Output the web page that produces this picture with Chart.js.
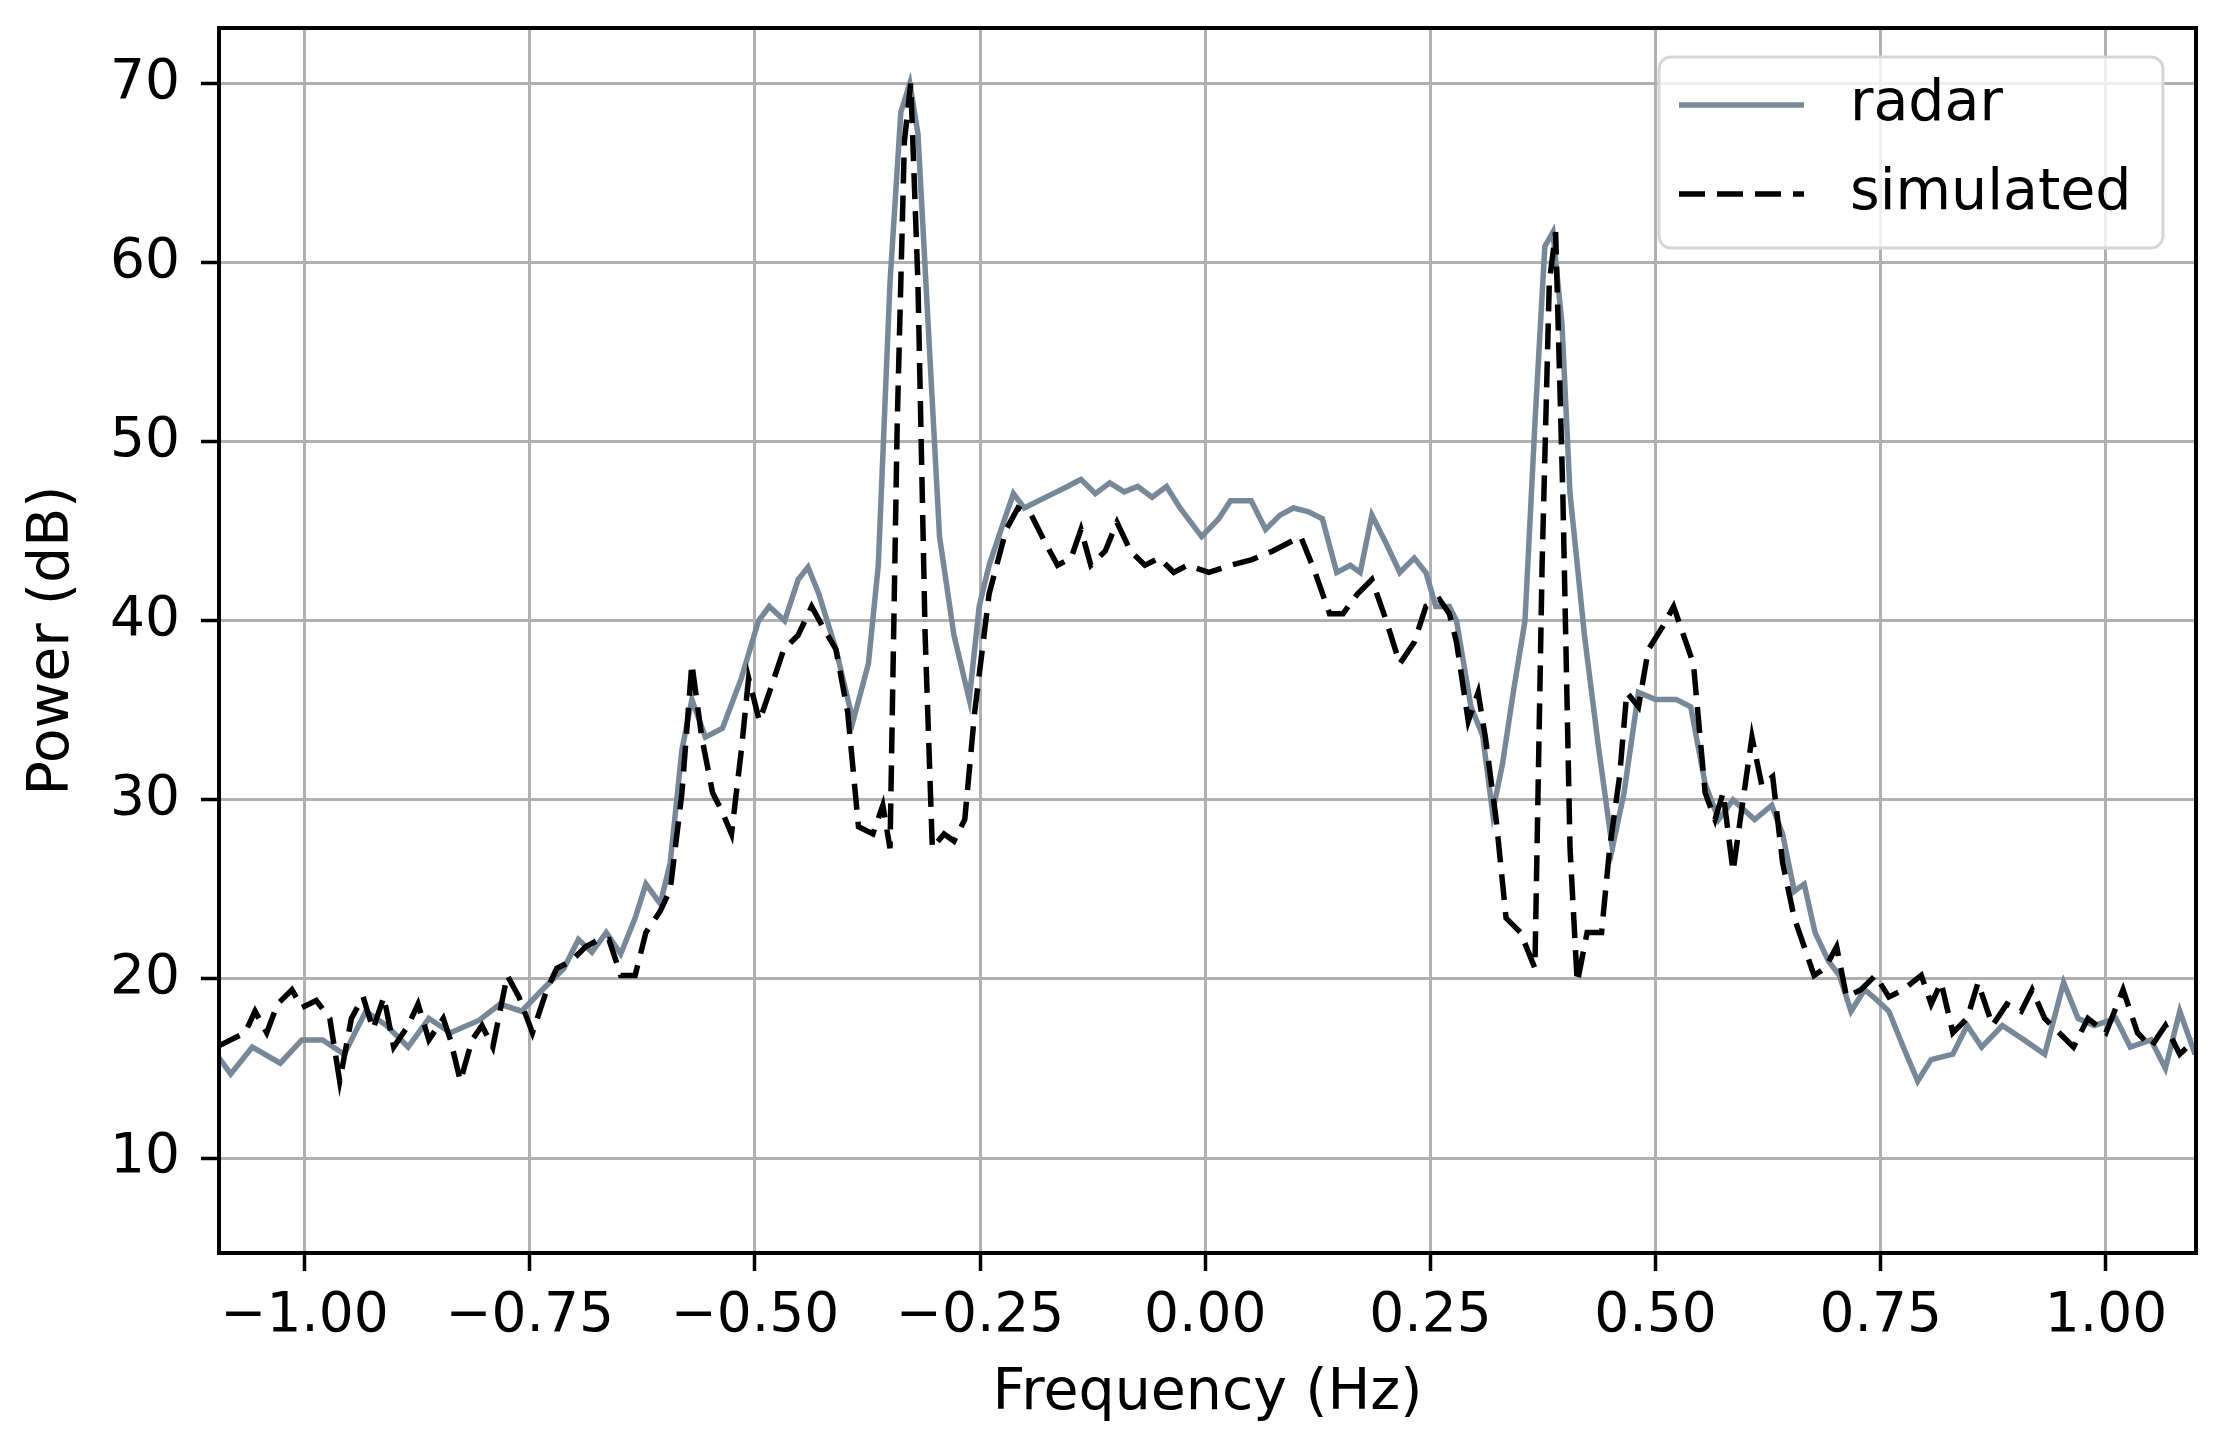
<!DOCTYPE html>
<html lang="en">
<head>
    <meta charset="UTF-8">
    <title>Power spectrum: radar vs simulated</title>
    <script src="https://cdn.jsdelivr.net/npm/chart.js"></script>
    <style>
        html, body { margin: 0; padding: 0; background: #fff; }
        #spectrum { display: block; }
    </style>
</head>
<body>
    <canvas id="spectrum" width="2214" height="1439"></canvas>

    <script>
        // radar spectrum
        const freqRadar = [
            -1.098, -1.082, -1.058, -1.027, -1.003, -0.980, -0.956, -0.932, -0.909, -0.885,
            -0.862, -0.838, -0.806, -0.783, -0.759, -0.736, -0.712, -0.696, -0.681, -0.665,
            -0.649, -0.633, -0.621, -0.605, -0.594, -0.581, -0.570, -0.555, -0.536, -0.515,
            -0.496, -0.484, -0.467, -0.452, -0.441, -0.429, -0.410, -0.391, -0.374, -0.363,
            -0.350, -0.338, -0.328, -0.319, -0.306, -0.295, -0.279, -0.262, -0.251, -0.240,
            -0.224, -0.213, -0.201, -0.185, -0.169, -0.153, -0.138, -0.122, -0.106, -0.090,
            -0.075, -0.059, -0.043, -0.028, -0.004, 0.015, 0.028, 0.051, 0.067, 0.083,
            0.098, 0.114, 0.130, 0.146, 0.161, 0.172, 0.185, 0.201, 0.216, 0.232,
            0.245, 0.256, 0.271, 0.279, 0.295, 0.308, 0.319, 0.330, 0.342, 0.355,
            0.366, 0.377, 0.386, 0.396, 0.405, 0.421, 0.437, 0.452, 0.465, 0.481,
            0.500, 0.523, 0.539, 0.555, 0.570, 0.586, 0.610, 0.629, 0.641, 0.654,
            0.665, 0.677, 0.692, 0.704, 0.717, 0.732, 0.744, 0.759, 0.775, 0.791,
            0.806, 0.830, 0.846, 0.862, 0.885, 0.909, 0.932, 0.953, 0.969, 0.987,
            1.011, 1.027, 1.050, 1.066, 1.082, 1.099
        ];
        const powerRadar = [
            15.8, 14.7, 16.2, 15.3, 16.6, 16.6, 15.8, 18.2, 17.4, 16.2,
            17.8, 17.0, 17.7, 18.6, 18.2, 19.4, 20.6, 22.2, 21.5, 22.6,
            21.4, 23.4, 25.3, 24.2, 26.5, 32.8, 35.6, 33.5, 34.0, 36.8,
            40.0, 40.8, 40.0, 42.3, 43.0, 41.5, 38.4, 34.4, 37.6, 43.1,
            58.9, 68.4, 70.0, 67.2, 55.0, 44.7, 39.2, 35.6, 40.8, 43.1,
            45.5, 47.1, 46.3, 46.7, 47.1, 47.5, 47.9, 47.1, 47.7, 47.2,
            47.5, 46.9, 47.5, 46.3, 44.7, 45.7, 46.7, 46.7, 45.1, 45.9,
            46.3, 46.1, 45.7, 42.7, 43.1, 42.7, 45.9, 44.3, 42.7, 43.5,
            42.7, 40.8, 40.8, 40.0, 35.2, 33.6, 29.3, 32.0, 36.0, 40.0,
            51.0, 60.9, 61.7, 56.6, 47.1, 39.2, 32.8, 27.3, 30.4, 36.0,
            35.6, 35.6, 35.2, 30.9, 28.9, 30.0, 28.9, 29.7, 28.1, 24.9,
            25.3, 22.6, 21.0, 20.2, 18.2, 19.4, 18.9, 18.2, 16.2, 14.3,
            15.5, 15.8, 17.4, 16.2, 17.4, 16.6, 15.8, 19.8, 17.8, 17.4,
            17.8, 16.2, 16.6, 15.0, 18.2, 15.8
        ];

        // simulated spectrum
        const freqSim = [
            -1.098, -1.082, -1.066, -1.055, -1.042, -1.030, -1.014, -1.003, -0.987, -0.972,
            -0.961, -0.948, -0.935, -0.924, -0.912, -0.901, -0.885, -0.874, -0.862, -0.846,
            -0.838, -0.827, -0.814, -0.803, -0.791, -0.775, -0.762, -0.747, -0.731, -0.720,
            -0.704, -0.688, -0.673, -0.662, -0.649, -0.633, -0.621, -0.605, -0.594, -0.581,
            -0.570, -0.559, -0.547, -0.536, -0.526, -0.515, -0.507, -0.495, -0.484, -0.468,
            -0.452, -0.437, -0.424, -0.410, -0.397, -0.385, -0.369, -0.358, -0.350, -0.342,
            -0.334, -0.327, -0.319, -0.311, -0.303, -0.290, -0.279, -0.267, -0.256, -0.240,
            -0.221, -0.208, -0.193, -0.177, -0.164, -0.149, -0.138, -0.127, -0.111, -0.098,
            -0.083, -0.067, -0.051, -0.035, -0.020, 0.004, 0.028, 0.051, 0.075, 0.106,
            0.122, 0.138, 0.153, 0.169, 0.185, 0.201, 0.216, 0.232, 0.245, 0.260,
            0.271, 0.279, 0.292, 0.303, 0.311, 0.323, 0.334, 0.350, 0.366, 0.374,
            0.382, 0.389, 0.397, 0.405, 0.413, 0.424, 0.440, 0.449, 0.460, 0.468,
            0.481, 0.492, 0.507, 0.520, 0.531, 0.542, 0.555, 0.566, 0.575, 0.586,
            0.594, 0.607, 0.618, 0.630, 0.641, 0.654, 0.665, 0.676, 0.688, 0.701,
            0.712, 0.728, 0.744, 0.759, 0.775, 0.795, 0.806, 0.817, 0.830, 0.846,
            0.858, 0.874, 0.890, 0.906, 0.918, 0.932, 0.948, 0.964, 0.980, 1.000,
            1.019, 1.035, 1.050, 1.066, 1.082, 1.099
        ];
        const powerSim = [
            16.2, 16.6, 17.0, 18.2, 17.0, 18.6, 19.4, 18.4, 18.8, 17.8,
            14.3, 17.8, 19.0, 17.2, 19.0, 16.2, 17.4, 18.6, 16.6, 17.8,
            16.6, 14.3, 16.6, 17.4, 16.2, 20.2, 19.0, 17.0, 19.4, 20.6,
            21.0, 21.8, 22.2, 22.2, 20.2, 20.2, 22.6, 23.8, 25.0, 30.4,
            37.6, 33.5, 30.4, 29.3, 28.1, 32.8, 36.8, 34.4, 36.0, 38.4,
            39.2, 40.8, 39.6, 38.4, 34.9, 28.5, 28.1, 29.7, 27.3, 51.0,
            66.8, 70.0, 58.9, 39.2, 27.3, 28.1, 27.7, 28.9, 34.9, 41.5,
            45.1, 46.3, 45.9, 44.3, 43.1, 43.5, 45.1, 43.1, 43.9, 45.5,
            43.9, 43.1, 43.5, 42.7, 43.1, 42.7, 43.1, 43.4, 43.9, 44.7,
            42.7, 40.4, 40.4, 41.5, 42.3, 40.0, 37.6, 38.8, 40.8, 41.2,
            40.4, 38.8, 34.4, 36.0, 33.5, 28.9, 23.4, 22.6, 20.6, 43.1,
            58.9, 61.7, 47.1, 27.3, 19.8, 22.6, 22.6, 27.3, 31.3, 36.0,
            35.2, 38.4, 39.6, 40.8, 39.2, 37.6, 30.4, 28.9, 30.4, 26.0,
            28.9, 33.5, 30.8, 31.3, 26.5, 23.4, 21.8, 20.2, 20.6, 21.8,
            19.0, 19.4, 20.2, 19.0, 19.4, 20.2, 18.6, 19.8, 17.0, 17.8,
            19.8, 17.4, 18.6, 18.2, 19.4, 17.8, 17.0, 16.2, 17.8, 17.0,
            19.4, 17.0, 16.2, 17.4, 15.8, 16.6
        ];

        const xTicks = [-1.00, -0.75, -0.50, -0.25, 0.00, 0.25, 0.50, 0.75, 1.00];
        const yTicks = [10, 20, 30, 40, 50, 60, 70];
        const seriesNames = ['radar', 'simulated'];

        const FONT = 'DejaVu Sans';
        const W = 2214, H = 1439;
        const AREA = { left: 219, right: 2196, top: 28, bottom: 1253 };

        function toPoints(xs, ys) {
            return xs.map((x, i) => ({ x: x, y: ys[i] }));
        }

        // matplotlib-style frame round the axes
        const framePlugin = {
            id: 'frame',
            afterDraw(chart) {
                const { ctx, chartArea: a } = chart;
                ctx.save();
                ctx.strokeStyle = '#000';
                ctx.lineWidth = 4;
                ctx.strokeRect(a.left, a.top, a.right - a.left, a.bottom - a.top);
                ctx.restore();
            }
        };

        // legend box in the upper right corner
        const legendPlugin = {
            id: 'boxLegend',
            afterDraw(chart) {
                const ctx = chart.ctx;
                const x = 1659, y = 57, w = 504, h = 191, r = 12;
                ctx.save();
                ctx.beginPath();
                ctx.roundRect(x, y, w, h, r);
                ctx.fillStyle = 'rgba(255,255,255,0.8)';
                ctx.fill();
                ctx.strokeStyle = '#d6d6d6';
                ctx.lineWidth = 3;
                ctx.stroke();

                const rows = [105, 194];
                chart.data.datasets.forEach((ds, i) => {
                    const ly = rows[i];
                    ctx.beginPath();
                    ctx.setLineDash(ds.borderDash || []);
                    ctx.strokeStyle = ds.borderColor;
                    ctx.lineWidth = ds.borderWidth;
                    ctx.lineCap = 'butt';
                    ctx.moveTo(1679, ly);
                    ctx.lineTo(1804, ly);
                    ctx.stroke();
                    ctx.setLineDash([]);
                    ctx.fillStyle = '#000';
                    ctx.font = '57px "' + FONT + '"';
                    ctx.textBaseline = 'middle';
                    ctx.textAlign = 'left';
                    ctx.fillText(ds.label, 1850, ly);
                });
                ctx.restore();
            }
        };

        const ctx = document.getElementById('spectrum').getContext('2d');

        const chart = new Chart(ctx, {
            type: 'scatter',
            data: {
                datasets: [
                    {
                        label: seriesNames[0],
                        data: toPoints(freqRadar, powerRadar),
                        showLine: true,
                        borderColor: '#778899',
                        borderWidth: 5.5,
                        pointRadius: 0,
                        tension: 0,
                        order: 2
                    },
                    {
                        label: seriesNames[1],
                        data: toPoints(freqSim, powerSim),
                        showLine: true,
                        borderColor: '#000000',
                        borderWidth: 5.5,
                        borderDash: [26, 12],
                        pointRadius: 0,
                        tension: 0,
                        order: 1
                    }
                ]
            },
            options: {
                responsive: false,
                animation: false,
                devicePixelRatio: 1,
                layout: {
                    padding: { top: AREA.top, right: W - AREA.right, left: 0, bottom: 0 }
                },
                plugins: {
                    legend: { display: false },
                    tooltip: { enabled: false }
                },
                scales: {
                    x: {
                        type: 'linear',
                        min: -1.095,
                        max: 1.1,
                        afterBuildTicks: s => { s.ticks = xTicks.map(v => ({ value: v })); },
                        afterFit: s => {
                            s.height = H - AREA.bottom;
                            s.paddingLeft = 0;
                            s.paddingRight = 0;
                        },
                        border: { display: false },
                        grid: {
                            color: '#b0b0b0',
                            lineWidth: 3,
                            tickLength: 18,
                            tickColor: '#000',
                            tickWidth: 3.5
                        },
                        ticks: {
                            autoSkip: false,
                            maxRotation: 0,
                            padding: 13,
                            color: '#000',
                            font: { family: FONT, size: 55 },
                            callback: v => v.toFixed(2).replace('-', '\u2212')
                        },
                        title: {
                            display: true,
                            text: 'Frequency (Hz)',
                            color: '#000',
                            font: { family: FONT, size: 57 },
                            padding: { top: 0, bottom: 11 }
                        }
                    },
                    y: {
                        type: 'linear',
                        min: 4.7,
                        max: 73.1,
                        afterBuildTicks: s => { s.ticks = yTicks.map(v => ({ value: v })); },
                        afterFit: s => {
                            s.width = AREA.left;
                            s.paddingTop = 0;
                            s.paddingBottom = 0;
                        },
                        border: { display: false },
                        grid: {
                            color: '#b0b0b0',
                            lineWidth: 3,
                            tickLength: 18,
                            tickColor: '#000',
                            tickWidth: 3.5
                        },
                        ticks: {
                            padding: 21,
                            color: '#000',
                            font: { family: FONT, size: 55 },
                            callback: v => String(v)
                        },
                        title: {
                            display: true,
                            text: 'Power (dB)',
                            color: '#000',
                            font: { family: FONT, size: 57 },
                            padding: { top: 19, bottom: 0 }
                        }
                    }
                }
            },
            plugins: [framePlugin, legendPlugin]
        });
    </script>
</body>
</html>
